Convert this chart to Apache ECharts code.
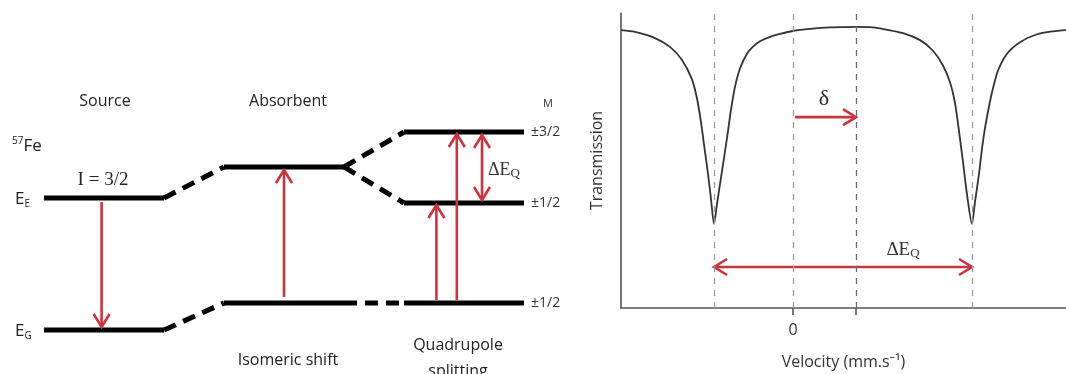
<!DOCTYPE html>
<html><head><meta charset="utf-8">
<script src="https://cdn.jsdelivr.net/npm/echarts@6/dist/echarts.min.js"></script>
<style>html,body{margin:0;padding:0;background:#fff}#c{width:1066px;height:374px}</style>
</head><body><div id="c"></div>
<script>
// ---------- Energy-level diagram (arbitrary energy units: source ground = 0, source excited = 1)
const columns = ['Source', 'Absorbent', 'Quadrupole splitting'];
const sourceLevels = [0, 1];
const absorbentLevels = [0.205, 1.235];
const quadrupoleLevels = [0.205, 0.962, 1.5];
const quadrupoleLabels = ['±1/2', '±1/2', '±3/2'];
const sourceTransition = [1, 0];          // emission
const absorbentTransition = [0.205, 1.235]; // absorption
const quadrupoleTransitions = [[0.205, 0.962], [0.205, 1.5]];
const quadrupoleSplitting = [0.962, 1.5];

// ---------- Mössbauer spectrum (velocity in mm/s, relative transmission)
const velocity = [-1.72,-1.58,-1.38,-1.23,-1.11,-1.01,-0.96,-0.92,-0.89,-0.85,-0.82,-0.79,-0.76,-0.73,-0.69,-0.65,-0.62,-0.58,-0.53,-0.46,-0.40,-0.33,-0.23,-0.13,0.00,0.17,0.37,0.64,0.77,0.87,1.10,1.27,1.40,1.50,1.57,1.62,1.65,1.70,1.74,1.79,1.82,1.86,1.89,1.92,1.97,2.00,2.05,2.14,2.27,2.44,2.60,2.73];
const transmission = [0.942,0.936,0.915,0.885,0.841,0.775,0.710,0.630,0.555,0.455,0.370,0.285,0.352,0.420,0.508,0.600,0.672,0.750,0.812,0.862,0.886,0.904,0.919,0.929,0.939,0.946,0.951,0.953,0.952,0.948,0.932,0.908,0.872,0.822,0.765,0.695,0.625,0.495,0.385,0.285,0.360,0.455,0.540,0.610,0.700,0.745,0.805,0.862,0.901,0.928,0.938,0.942];
const isomerShift = 0.63;
const peakPositions = [-0.79, 1.79];
const xTickValues = [0, isomerShift];
const xLabelValues = [0];

const RED = '#d0323d';
const FONT = '"Open Sans", "Noto Sans", sans-serif';
const SERIF = '"Liberation Serif", "DejaVu Serif", serif';

// layout helpers
const colStart = i => i * 1.5;
const colEnd = i => i * 1.5 + 1;

// build diagram items (data space)
const diag = [];
[sourceLevels, absorbentLevels, quadrupoleLevels].forEach((lv, ci) =>
  lv.forEach((e, li) => diag.push({k: 'level', a: [colStart(ci), e], b: [colEnd(ci), e],
    label: ci === 2 ? quadrupoleLabels[li] : null})));
sourceLevels.forEach((e, i) => diag.push({k: 'dash', a: [colEnd(0), e], b: [colStart(1), absorbentLevels[i]]}));
diag.push({k: 'dash', a: [colEnd(1), absorbentLevels[1]], b: [colStart(2), quadrupoleLevels[2]]});
diag.push({k: 'dash', a: [colEnd(1), absorbentLevels[1]], b: [colStart(2), quadrupoleLevels[1]]});
diag.push({k: 'dash', a: [colEnd(1), absorbentLevels[0]], b: [colStart(2), quadrupoleLevels[0]]});
diag.push({k: 'arrow', a: [colStart(0) + 0.48, sourceTransition[0]], b: [colStart(0) + 0.48, sourceTransition[1]], gapA: 4, gapB: 3});
diag.push({k: 'arrow', a: [colStart(1) + 0.5, absorbentTransition[0]], b: [colStart(1) + 0.5, absorbentTransition[1]], gapA: 6, gapB: 3});
const quadX = [0.27, 0.44];
quadrupoleTransitions.forEach((t, i) =>
  diag.push({k: 'arrow', a: [colStart(2) + quadX[i], t[0]], b: [colStart(2) + quadX[i], t[1]], gapA: 3, gapB: 2}));
diag.push({k: 'arrow', both: true, a: [colStart(2) + 0.65, quadrupoleSplitting[0]], b: [colStart(2) + 0.65, quadrupoleSplitting[1]], gapA: 3, gapB: 3});

// spectrum annotation arrows (data space of spectrum grid)
const specArrows = [
  {a: [0.02, 0.647], b: [isomerShift, 0.647], both: false},
  {a: [peakPositions[0], 0.139], b: [peakPositions[1], 0.139], both: true}
];

function arrowChildren(pa, pb, both, gapA, gapB) {
  const dx = pb[0] - pa[0], dy = pb[1] - pa[1], L = Math.hypot(dx, dy);
  const ux = dx / L, uy = dy / L, nx = -uy, ny = ux;
  const a = [pa[0] + ux * (gapA || 0), pa[1] + uy * (gapA || 0)];
  const b = [pb[0] - ux * (gapB || 0), pb[1] - uy * (gapB || 0)];
  const hl = 13, hw = 8;
  const head = (t, d) => ({type: 'polyline', shape: {points: [
      [t[0] - d * ux * hl + nx * hw, t[1] - d * uy * hl + ny * hw], [t[0], t[1]],
      [t[0] - d * ux * hl - nx * hw, t[1] - d * uy * hl - ny * hw]]},
    style: {stroke: RED, lineWidth: 2.6, fill: null}});
  const ch = [{type: 'line', shape: {x1: a[0], y1: a[1], x2: b[0], y2: b[1]}, style: {stroke: RED, lineWidth: 2.6}}, head(b, 1)];
  if (both) ch.push(head(a, -1));
  return ch;
}

const chart = echarts.init(document.getElementById('c'), null, {renderer: 'canvas'});
const option = {
  animation: false,
  backgroundColor: '#fff',
  grid: [
    {left: 44, top: 66, width: 480, height: 297, outerBoundsMode: 'none', containLabel: false},
    {left: 621, top: 13, right: 0, height: 295, outerBoundsMode: 'none', containLabel: false}
  ],
  xAxis: [
    {type: 'value', gridIndex: 0, min: 0, max: 4, show: false},
    {type: 'value', gridIndex: 1, min: -1.72, max: 2.73,
      axisLine: {show: true, onZero: false, lineStyle: {color: '#555', width: 1.6}},
      axisTick: {show: true, length: 7, customValues: xTickValues, lineStyle: {color: '#555', width: 1.6}},
      axisLabel: {show: true, customValues: xLabelValues, margin: 14, formatter: v => (v === 0 ? '0' : ''),
        fontFamily: FONT, fontSize: 16, color: '#333'},
      splitLine: {show: false},
      name: 'Velocity (mm.s⁻¹)', nameLocation: 'middle', nameGap: 46,
      nameTextStyle: {fontFamily: FONT, fontSize: 16, color: '#333'}}
  ],
  yAxis: [
    {type: 'value', gridIndex: 0, min: -0.25, max: 2, show: false},
    {type: 'value', gridIndex: 1, min: 0, max: 1,
      axisLine: {show: true, onZero: false, lineStyle: {color: '#555', width: 1.6}},
      axisTick: {show: false}, axisLabel: {show: false}, splitLine: {show: false},
      name: 'Transmission', nameLocation: 'middle', nameGap: 16,
      nameTextStyle: {fontFamily: FONT, fontSize: 16, color: '#333'}}
  ],
  series: [
    {
      type: 'custom', xAxisIndex: 0, yAxisIndex: 0, clip: false, silent: true,
      data: diag.map((d, i) => [i]),
      renderItem: (params, api) => {
        const d = diag[params.dataIndex];
        const a = api.coord(d.a), b = api.coord(d.b);
        if (d.k === 'level') {
          const ch = [{type: 'line', shape: {x1: a[0], y1: a[1], x2: b[0], y2: b[1]}, style: {stroke: '#000', lineWidth: 5}}];
          if (d.label) ch.push({type: 'text', x: b[0] + 7, y: b[1], style: {text: d.label, font: '14px ' + FONT, fill: '#333', align: 'left', verticalAlign: 'middle', textAlign: 'left', textVerticalAlign: 'middle'}});
          return {type: 'group', children: ch};
        }
        if (d.k === 'dash') {
          return {type: 'line', shape: {x1: a[0], y1: a[1], x2: b[0], y2: b[1]}, style: {stroke: '#000', lineWidth: 5, lineDash: [13, 8]}};
        }
        return {type: 'group', children: arrowChildren(a, b, d.both, d.gapA, d.gapB)};
      }
    },
    {
      type: 'line', xAxisIndex: 1, yAxisIndex: 1,
      data: velocity.map((v, i) => [v, transmission[i]]),
      smooth: 0.25, showSymbol: false, silent: true,
      lineStyle: {color: '#333', width: 1.8}, z: 3,
      markLine: {
        silent: true, symbol: 'none', label: {show: false}, animation: false,
        lineStyle: {type: [6, 6], color: '#9a9a9a', width: 1.3},
        data: [{xAxis: peakPositions[0]}, {xAxis: 0}, {xAxis: isomerShift, lineStyle: {color: '#6a6a6a', type: [6, 6], width: 1.3}}, {xAxis: peakPositions[1]}]
      }
    },
    {
      type: 'custom', xAxisIndex: 1, yAxisIndex: 1, clip: false, silent: true, z: 4,
      data: specArrows.map((d, i) => [i]),
      renderItem: (params, api) => {
        const d = specArrows[params.dataIndex];
        return {type: 'group', children: arrowChildren(api.coord(d.a), api.coord(d.b), d.both, 0, 0)};
      }
    }
  ],
  graphic: [
    {type: 'text', x: 105, y: 101, style: {text: columns[0], font: '16px ' + FONT, fill: '#222', align: 'center', verticalAlign: 'middle', textAlign: 'center', textVerticalAlign: 'middle'}},
    {type: 'text', x: 288, y: 101, style: {text: columns[1], font: '16px ' + FONT, fill: '#222', align: 'center', verticalAlign: 'middle', textAlign: 'center', textVerticalAlign: 'middle'}},
    {type: 'text', x: 288, y: 360, style: {text: 'Isomeric shift', font: '16px ' + FONT, fill: '#222', align: 'center', verticalAlign: 'middle', textAlign: 'center', textVerticalAlign: 'middle'}},
    {type: 'text', x: 458, y: 345, style: {text: 'Quadrupole', font: '16px ' + FONT, fill: '#222', align: 'center', verticalAlign: 'middle', textAlign: 'center', textVerticalAlign: 'middle'}},
    {type: 'text', x: 458, y: 371, style: {text: 'splitting', font: '16px ' + FONT, fill: '#222', align: 'center', verticalAlign: 'middle', textAlign: 'center', textVerticalAlign: 'middle'}},
    {type: 'text', x: 12, y: 146, style: {text: '{s|57}{b|Fe}', align: 'left', verticalAlign: 'middle', textAlign: 'left', textVerticalAlign: 'middle',
      rich: {s: {fontSize: 10, fontFamily: FONT, fill: '#222', color: '#222', verticalAlign: 'top', lineHeight: 10}, b: {fontSize: 17, fontFamily: FONT, fill: '#222', color: '#222', lineHeight: 20}}}},
    {type: 'text', x: 15, y: 199, style: {text: '{b|E}{s|E}', align: 'left', verticalAlign: 'middle', textAlign: 'left', textVerticalAlign: 'middle',
      rich: {s: {fontSize: 10, fontFamily: FONT, fill: '#222', color: '#222', verticalAlign: 'bottom', lineHeight: 12}, b: {fontSize: 17, fontFamily: FONT, fill: '#222', color: '#222', lineHeight: 20}}}},
    {type: 'text', x: 15, y: 331, style: {text: '{b|E}{s|G}', align: 'left', verticalAlign: 'middle', textAlign: 'left', textVerticalAlign: 'middle',
      rich: {s: {fontSize: 10, fontFamily: FONT, fill: '#222', color: '#222', verticalAlign: 'bottom', lineHeight: 12}, b: {fontSize: 17, fontFamily: FONT, fill: '#222', color: '#222', lineHeight: 20}}}},
    {type: 'text', x: 103, y: 180, style: {text: 'I = 3/2', font: '19px ' + SERIF, fill: '#222', align: 'center', verticalAlign: 'middle', textAlign: 'center', textVerticalAlign: 'middle'}},
    {type: 'text', x: 548, y: 104, style: {text: 'M', font: '11px ' + FONT, fill: '#333', align: 'center', verticalAlign: 'middle', textAlign: 'center', textVerticalAlign: 'middle'}},
    {type: 'text', x: 488, y: 170, style: {text: '{b|ΔE}{s|Q}', align: 'left', verticalAlign: 'middle', textAlign: 'left', textVerticalAlign: 'middle',
      rich: {s: {fontSize: 13, fontFamily: SERIF, fill: '#333', color: '#333', verticalAlign: 'bottom', lineHeight: 13}, b: {fontSize: 18, fontFamily: SERIF, fill: '#333', color: '#333', lineHeight: 20}}}},
    {type: 'text', x: 824, y: 99, style: {text: 'δ', font: '22px ' + SERIF, fill: '#222', align: 'center', verticalAlign: 'middle', textAlign: 'center', textVerticalAlign: 'middle'}},
    {type: 'text', x: 903, y: 250, style: {text: '{b|ΔE}{s|Q}', align: 'center', verticalAlign: 'middle', textAlign: 'center', textVerticalAlign: 'middle',
      rich: {s: {fontSize: 13, fontFamily: SERIF, fill: '#333', color: '#333', verticalAlign: 'bottom', lineHeight: 13}, b: {fontSize: 19, fontFamily: SERIF, fill: '#333', color: '#333', lineHeight: 21}}}}
  ]
};
chart.setOption(option);
</script></body></html>
